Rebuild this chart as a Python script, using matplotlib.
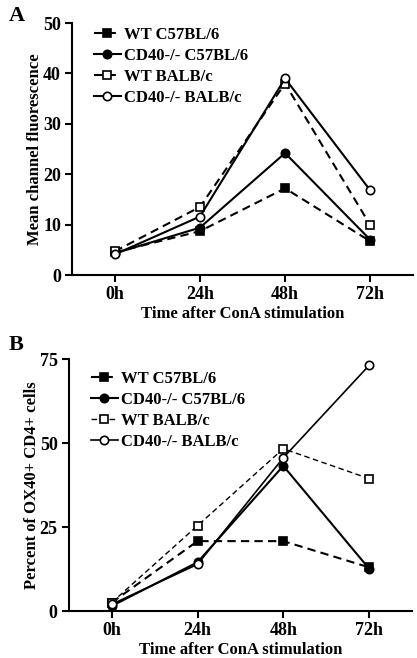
import matplotlib
matplotlib.use("Agg")
import matplotlib.pyplot as plt

plt.rcParams['font.family'] = ['Liberation Serif', 'DejaVu Serif']
plt.rcParams['font.weight'] = 'bold'

times = ['0h', '24h', '48h', '72h']
names = ['WT C57BL/6', 'CD40-/- C57BL/6', 'WT BALB/c', 'CD40-/- BALB/c']

# panel A: mean channel fluorescence
mcf_wt_b6 = [4.5, 8.7, 17.2, 6.7]
mcf_ko_b6 = [4.3, 9.4, 24.2, 7.0]
mcf_wt_balb = [4.7, 13.5, 38.0, 9.9]
mcf_ko_balb = [4.1, 11.6, 39.0, 16.8]

# panel B: percent OX40+ CD4+
pct_wt_b6 = [2.5, 20.8, 20.8, 13.0]
pct_ko_b6 = [1.5, 14.5, 43.2, 12.6]
pct_wt_balb = [2.5, 25.4, 48.3, 39.4]
pct_ko_balb = [2.0, 13.9, 45.6, 73.1]

styles = [
    dict(ls='--', marker='s', mfc='black'),
    dict(ls='-', marker='o', mfc='black'),
    dict(ls='--', marker='s', mfc='white'),
    dict(ls='-', marker='o', mfc='white'),
]

fig = plt.figure(figsize=(4.17, 6.58), dpi=100)
axA = fig.add_axes([0.173, 0.582, 0.817, 0.383])
axB = fig.add_axes([0.165, 0.0714, 0.823, 0.383])


def draw(ax, series, ymax, yticks, ylabel, lw, leg_y):
    x = range(len(times))
    for vals, name, st, w in zip(series, names, styles, lw):
        ax.plot(x, vals, color='black', lw=w, marker=st['marker'], mfc=st['mfc'], mec='black',
                ms=6, mew=1.2, label=name,
                dashes=(4, 2.5) if st['ls'] == '--' else (None, None))
    ax.set_xlim(-0.5, 3.5)
    ax.set_ylim(0, ymax)
    ax.set_yticks(yticks)
    ax.set_xticks(list(x))
    ax.set_xticklabels(times)
    for s in ['top', 'right']:
        ax.spines[s].set_visible(False)
    for s in ['left', 'bottom']:
        ax.spines[s].set_linewidth(1.5)
    ax.tick_params(width=1.5, length=5, labelsize=13, pad=3)
    ax.set_xlabel('Time after ConA stimulation', fontsize=12, fontweight='bold', labelpad=2)
    ax.set_ylabel(ylabel, fontsize=12, fontweight='bold', labelpad=0)
    ax.legend(loc='upper left', bbox_to_anchor=(0.045, leg_y), frameon=False, fontsize=12,
              handlelength=1.6, handletextpad=0.2, labelspacing=0.3, borderaxespad=0)


draw(axA, [mcf_wt_b6, mcf_ko_b6, mcf_wt_balb, mcf_ko_balb], 50, [0, 10, 20, 30, 40, 50],
     'Mean channel fluorescence', [1.5, 1.5, 1.5, 1.5], 1.01)
draw(axB, [pct_wt_b6, pct_ko_b6, pct_wt_balb, pct_ko_balb], 75, [0, 25, 50, 75],
     'Percent of OX40+ CD4+ cells', [1.5, 1.5, 1.0, 1.2], 0.98)

fig.text(0.02, 0.975, 'A', fontsize=16, fontweight='bold', va='center')
fig.text(0.02, 0.475, 'B', fontsize=16, fontweight='bold', va='center')

fig.savefig('out.png', dpi=100)
